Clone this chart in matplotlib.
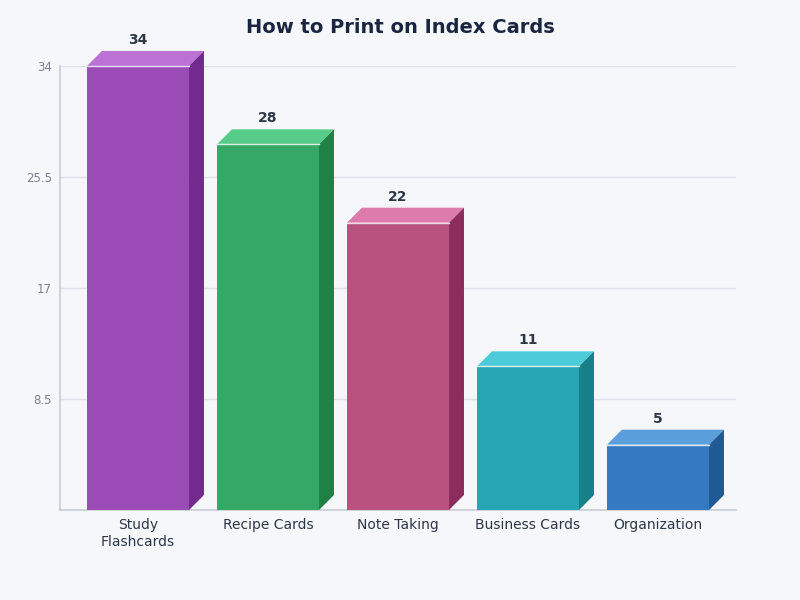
import matplotlib.pyplot as plt
from matplotlib.patches import Polygon
import numpy as np

categories = ['Study\nFlashcards', 'Recipe Cards', 'Note Taking', 'Business Cards', 'Organization']
values = [34, 28, 22, 11, 5]
front_colors = ['#9B4BB6', '#35A866', '#B9527F', '#26A5B4', '#3579C2']
top_colors = ['#BA72D4', '#58CC89', '#DE7BAD', '#4ECBD9', '#5B9EDC']
side_colors = ['#74298F', '#1F8143', '#8B2D5C', '#167F88', '#1F5A97']
yticks = [8.5, 17, 25.5, 34]

bg = '#F5F7FB'
fig = plt.figure(figsize=(8, 6), dpi=100, facecolor=bg)
ax = fig.add_axes([0.075, 0.15, 0.845, 0.74], facecolor=bg)

w = 0.785
dx = 0.115   # depth offset in x data units
dy = 1.15    # depth offset in y data units

for i, v in enumerate(values):
	x0 = i - w / 2
	x1 = i + w / 2
	ax.add_patch(Polygon([(x0, 0), (x1, 0), (x1, v), (x0, v)], closed=True,
		facecolor=front_colors[i], edgecolor='none', zorder=3, clip_on=False))
	ax.add_patch(Polygon([(x0, v), (x1, v), (x1 + dx, v + dy), (x0 + dx, v + dy)], closed=True,
		facecolor=top_colors[i], edgecolor='none', zorder=3, clip_on=False))
	ax.add_patch(Polygon([(x1, 0), (x1 + dx, dy), (x1 + dx, v + dy), (x1, v)], closed=True,
		facecolor=side_colors[i], edgecolor='none', zorder=3, clip_on=False))
	ax.plot([x0, x1], [v, v], color='white', lw=1.0, alpha=0.8, zorder=4, clip_on=False)
	ax.text(i, v + dy + 0.3, str(v), ha='center', va='bottom', fontsize=10,
		fontweight='bold', color='#2D3748', zorder=5)

ax.set_xlim(-0.6, 4.6)
ax.set_ylim(0, 34)
ax.set_xticks(range(len(categories)))
ax.set_xticklabels(categories, fontsize=10, color='#2D3748')
ax.set_yticks(yticks)
ax.set_yticklabels(['8.5', '17', '25.5', '34'], fontsize=8.5, color='#7A8290')
ax.tick_params(axis='both', length=0, pad=6)
ax.grid(axis='y', color='#DCE0E7', lw=1, zorder=0)
for s in ['top', 'right']:
	ax.spines[s].set_visible(False)
for s in ['left', 'bottom']:
	ax.spines[s].set_color('#C8CDD5')
	ax.spines[s].set_linewidth(1.2)

fig.suptitle('How to Print on Index Cards', fontsize=14, fontweight='bold',
	color='#1A2640', y=0.97)

plt.savefig('out.png', dpi=100, facecolor=bg)
